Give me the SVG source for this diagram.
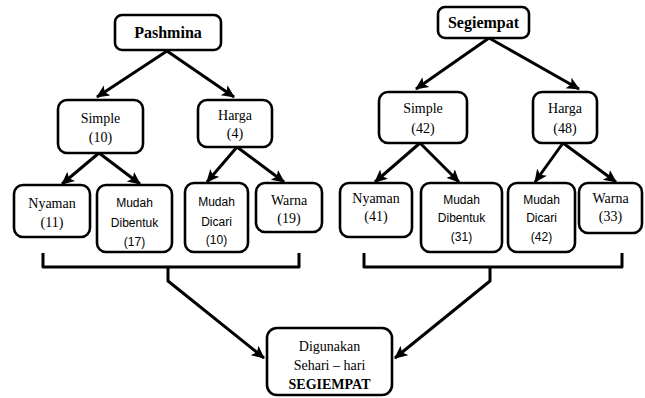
<svg xmlns="http://www.w3.org/2000/svg" width="645" height="398" viewBox="0 0 645 398">
<defs>
<marker id="ah" markerUnits="userSpaceOnUse" markerWidth="14" markerHeight="14" viewBox="0 0 14 14" refX="12" refY="7" orient="auto">
<path d="M0,1 L13,7 L0,13 L3,7 Z" fill="#000"/>
</marker>
<style>
.box{fill:#fff;stroke:#000;stroke-width:2.6}
.t{font-family:"Liberation Serif","Times New Roman",serif;font-size:14px;text-anchor:middle;fill:#000}
.b{font-family:"Liberation Serif","Times New Roman",serif;font-size:16px;font-weight:bold;text-anchor:middle;fill:#000}
.bs{font-family:"Liberation Serif","Times New Roman",serif;font-size:14px;font-weight:bold;text-anchor:middle;fill:#000}
.s{font-family:"Liberation Sans",Arial,sans-serif;font-size:12px;text-anchor:middle;fill:#000}
.c{fill:none;stroke:#000;stroke-width:3;stroke-linejoin:round}
</style>
</defs>
<g id="connectors">
<path class="c" d="M167,51 L97,97" marker-end="url(#ah)"/>
<path class="c" d="M167,51 L234,97" marker-end="url(#ah)"/>
<path class="c" d="M99,153 L62,184" marker-end="url(#ah)"/>
<path class="c" d="M99,153 L140,184" marker-end="url(#ah)"/>
<path class="c" d="M237,147 L207,182" marker-end="url(#ah)"/>
<path class="c" d="M237,147 L284,182" marker-end="url(#ah)"/>
<path class="c" d="M489,38 L416,89" marker-end="url(#ah)"/>
<path class="c" d="M489,38 L579,89" marker-end="url(#ah)"/>
<path class="c" d="M420,143 L375,182" marker-end="url(#ah)"/>
<path class="c" d="M420,143 L459,182" marker-end="url(#ah)"/>
<path class="c" d="M563,143 L535,182" marker-end="url(#ah)"/>
<path class="c" d="M563,143 L616,182" marker-end="url(#ah)"/>
<path class="c" d="M43,253 L43,267 L299,267 L299,253"/>
<path class="c" d="M364,253 L364,267 L622,267 L622,253"/>
<path class="c" d="M168,267 L168,281 L264,358" marker-end="url(#ah)"/>
<path class="c" d="M490,267 L490,281 L395,358" marker-end="url(#ah)"/>
</g>
<g id="pashmina"><rect class="box" x="115" y="15" width="106" height="35" rx="7"/><text class="b" x="168" y="38">Pashmina</text></g>
<g id="simple1"><rect class="box" x="58" y="100" width="85" height="53" rx="9"/><text class="t" x="100.5" y="123">Simple</text><text class="t" x="100.5" y="142">(10)</text></g>
<g id="harga1"><rect class="box" x="198" y="100" width="74" height="47" rx="9"/><text class="t" x="235" y="120">Harga</text><text class="t" x="235" y="138">(4)</text></g>
<g id="nyaman1"><rect class="box" x="14" y="185" width="76" height="52" rx="9"/><text class="t" x="52" y="208">Nyaman</text><text class="t" x="52" y="227">(11)</text></g>
<g id="dibentuk1"><rect class="box" x="97" y="185" width="75" height="67" rx="9"/><text class="s" x="134.5" y="207">Mudah</text><text class="s" x="134.5" y="227">Dibentuk</text><text class="s" x="134.5" y="246">(17)</text></g>
<g id="dicari1"><rect class="box" x="185" y="183" width="63" height="69" rx="9"/><text class="s" x="216.5" y="206">Mudah</text><text class="s" x="216.5" y="226">Dicari</text><text class="s" x="216.5" y="244">(10)</text></g>
<g id="warna1"><rect class="box" x="256" y="183" width="66" height="49" rx="9"/><text class="t" x="289" y="205">Warna</text><text class="t" x="289" y="223">(19)</text></g>
<g id="segiempat"><rect class="box" x="438" y="7" width="91" height="31" rx="7"/><text class="b" x="483.5" y="28">Segiempat</text></g>
<g id="simple2"><rect class="box" x="379" y="92" width="88" height="51" rx="9"/><text class="t" x="423" y="113">Simple</text><text class="t" x="423" y="133">(42)</text></g>
<g id="harga2"><rect class="box" x="533" y="92" width="64" height="51" rx="9"/><text class="t" x="565" y="113">Harga</text><text class="t" x="565" y="133">(48)</text></g>
<g id="nyaman2"><rect class="box" x="340" y="183" width="72" height="54" rx="9"/><text class="t" x="376" y="203">Nyaman</text><text class="t" x="376" y="221">(41)</text></g>
<g id="dibentuk2"><rect class="box" x="421" y="183" width="81" height="69" rx="9"/><text class="s" x="461.5" y="204">Mudah</text><text class="s" x="461.5" y="222">Dibentuk</text><text class="s" x="461.5" y="241">(31)</text></g>
<g id="dicari2"><rect class="box" x="508" y="183" width="67" height="69" rx="9"/><text class="s" x="541.5" y="204">Mudah</text><text class="s" x="541.5" y="222">Dicari</text><text class="s" x="541.5" y="241">(42)</text></g>
<g id="warna2"><rect class="box" x="579" y="183" width="63" height="50" rx="9"/><text class="t" x="610.5" y="203">Warna</text><text class="t" x="610.5" y="221">(33)</text></g>
<g id="digunakan"><rect class="box" x="267" y="328" width="125" height="67" rx="10"/><text class="t" x="329.5" y="351">Digunakan</text><text class="t" x="329.5" y="370">Sehari – hari</text><text class="bs" x="329.5" y="389">SEGIEMPAT</text></g>
</svg>
